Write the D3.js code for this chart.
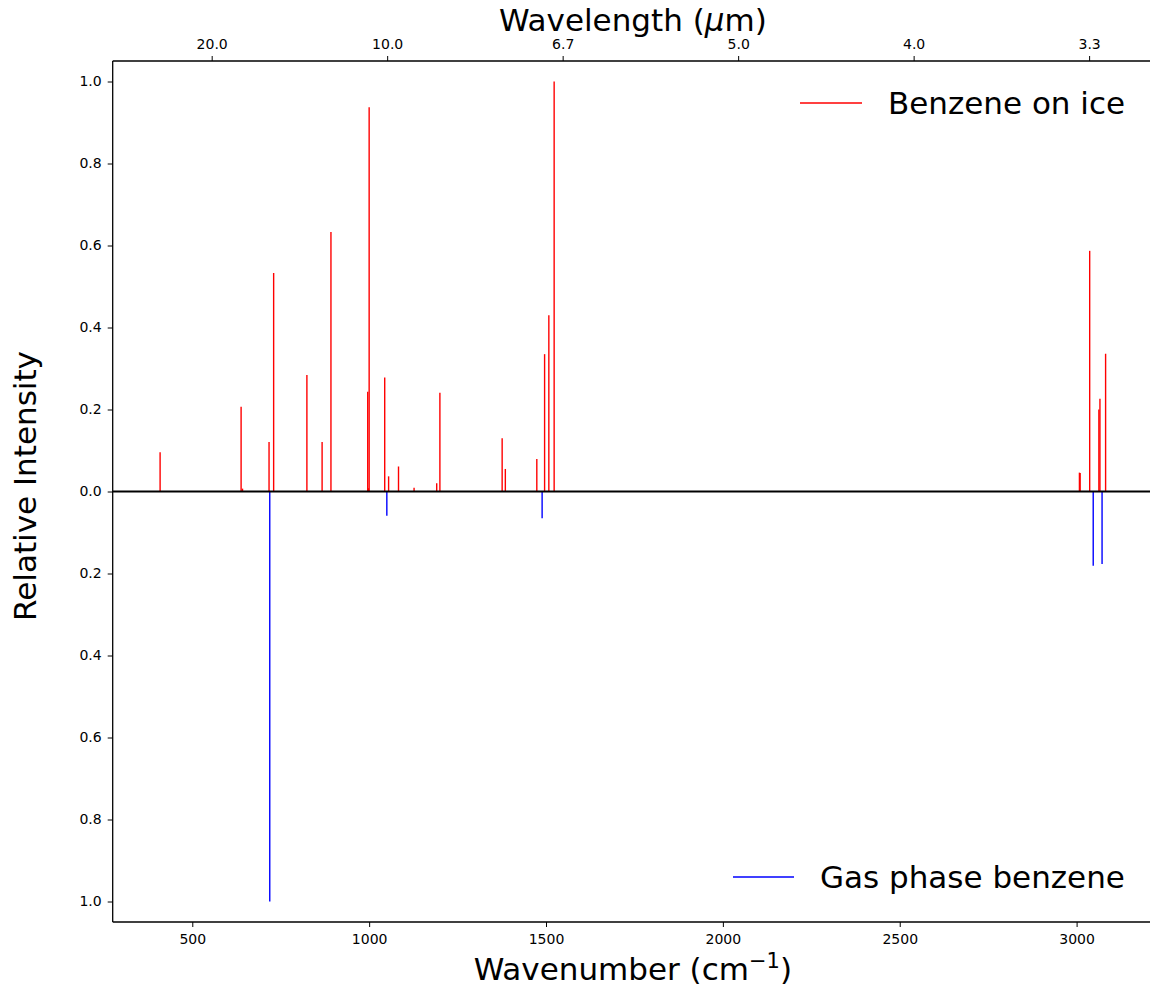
<!DOCTYPE html>
<html>
<head>
<meta charset="utf-8">
<script src="https://cdn.jsdelivr.net/npm/d3@7"></script>
<style>
  body { margin: 0; background: #fff; }
  svg { display: block; font-family: "DejaVu Sans", sans-serif; }
</style>
</head>
<body>
<svg id="chart" width="1150" height="988"></svg>
<script>
// Benzene on ice (wavenumber cm^-1, relative intensity)
const iceWavenumbers = [409, 638, 642, 717, 730, 824, 867, 892, 996, 998, 1000, 1044, 1055, 1083, 1127, 1191, 1200, 1376, 1385, 1474, 1496, 1508, 1523, 3008, 3010, 3037, 3063, 3066, 3082];
const iceIntensities = [0.096, 0.207, 0.007, 0.121, 0.533, 0.284, 0.121, 0.633, 0.243, 0.008, 0.937, 0.278, 0.037, 0.061, 0.009, 0.020, 0.241, 0.130, 0.055, 0.079, 0.335, 0.430, 1.000, 0.046, 0.045, 0.587, 0.200, 0.226, 0.336];
// Gas phase benzene (plotted downward)
const gasWavenumbers = [719, 1050, 1489, 3047, 3072];
const gasIntensities = [1.000, 0.059, 0.065, 0.181, 0.177];

const xDomain = [275, 3216];
const yDomain = [-1.05, 1.05];
const xTicks = [500, 1000, 1500, 2000, 2500, 3000];
const yTicks = [-1.0, -0.8, -0.6, -0.4, -0.2, 0.0, 0.2, 0.4, 0.6, 0.8, 1.0];
const topDomain = [218, 3182];
const topTicks = [500, 1000, 1500, 2000, 2500, 3000];
const topTickLabels = ["20.0", "10.0", "6.7", "5.0", "4.0", "3.3"];

(function () {
const svg = d3.select("#chart");
const mL = 112.7, mR = 1153, mT = 61, mB = 922;

const x = d3.scaleLinear().domain(xDomain).range([mL, mR]);
const xTop = d3.scaleLinear().domain(topDomain).range([mL, mR]);
const y = d3.scaleLinear().domain(yDomain).range([mB, mT]);

const fmt = d3.format(".1f");

const gx = svg.append("g").attr("transform", `translate(0,${mB})`)
  .call(d3.axisBottom(x).tickValues(xTicks).tickSize(5).tickPadding(7).tickFormat(d3.format("d")));
const gy = svg.append("g").attr("transform", `translate(${mL},0)`)
  .call(d3.axisLeft(y).tickValues(yTicks).tickSize(5).tickPadding(6).tickFormat(d => fmt(Math.abs(d))));
const gt = svg.append("g").attr("transform", `translate(0,${mT})`)
  .call(d3.axisTop(xTop).tickValues(topTicks).tickSize(5).tickPadding(7).tickFormat((d, i) => topTickLabels[i]));

[gx, gy, gt].forEach(g => {
  g.selectAll("path.domain").attr("stroke", "#000").attr("stroke-width", 1.3);
  g.selectAll(".tick line").attr("stroke", "#000").attr("stroke-width", 1);
  g.selectAll(".tick text").attr("font-size", 14).attr("fill", "#000").attr("font-family", "DejaVu Sans");
});
gx.select("path.domain").attr("d", `M${mL},0H${mR}`);
gt.select("path.domain").attr("d", `M${mL},0H${mR}`);
gy.select("path.domain").attr("d", `M0,${mT}V${mB}`);

svg.append("g").selectAll("line").data(iceWavenumbers).join("line")
  .attr("x1", d => x(d)).attr("x2", d => x(d))
  .attr("y1", y(0)).attr("y2", (d, i) => y(iceIntensities[i]))
  .attr("stroke", "#ff0000").attr("stroke-width", 1.4);

svg.append("g").selectAll("line").data(gasWavenumbers).join("line")
  .attr("x1", d => x(d)).attr("x2", d => x(d))
  .attr("y1", y(0)).attr("y2", (d, i) => y(-gasIntensities[i]))
  .attr("stroke", "#0000ff").attr("stroke-width", 1.4);

svg.append("line").attr("x1", mL).attr("x2", mR).attr("y1", y(0)).attr("y2", y(0))
  .attr("stroke", "#000").attr("stroke-width", 1.8);

function legend(x1, x2, ly, tx, color, label) {
  svg.append("line").attr("x1", x1).attr("x2", x2).attr("y1", ly).attr("y2", ly)
    .attr("stroke", color).attr("stroke-width", 1.4);
  svg.append("text").attr("x", tx).attr("y", ly).attr("dy", "0.35em")
    .attr("font-size", 31).attr("fill", "#000").text(label);
}
legend(800, 862, 103, 888, "#ff0000", "Benzene on ice");
legend(733, 794, 877, 820, "#0000ff", "Gas phase benzene");

const cx = (mL + mR) / 2;
const xt = svg.append("text").attr("x", cx).attr("y", 980).attr("text-anchor", "middle").attr("font-size", 31);
xt.append("tspan").text("Wavenumber (cm");
xt.append("tspan").attr("font-size", 21).attr("dy", -12).text("\u22121");
xt.append("tspan").attr("dy", 12).text(")");

const tt = svg.append("text").attr("x", cx).attr("y", 31).attr("text-anchor", "middle").attr("font-size", 31);
tt.append("tspan").text("Wavelength (");
tt.append("tspan").attr("font-style", "italic").text("\u03bc");
tt.append("tspan").text("m)");

svg.append("text").attr("transform", `translate(36,486) rotate(-90)`)
  .attr("text-anchor", "middle").attr("font-size", 31).text("Relative Intensity");
})();
</script>
</body>
</html>
